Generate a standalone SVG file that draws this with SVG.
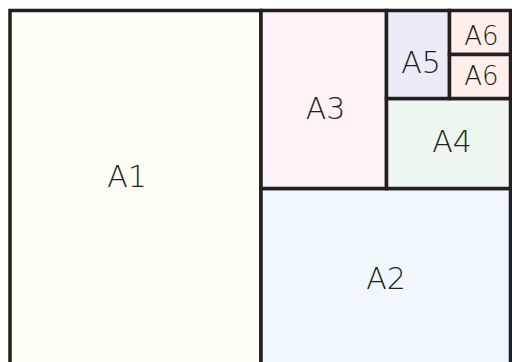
<svg xmlns="http://www.w3.org/2000/svg" width="512" height="362" viewBox="0 0 512 362">
<style>
.r{stroke:#231f20;stroke-width:3.5}
.t{font-family:"DejaVu Sans","Liberation Sans",sans-serif;font-weight:200;font-size:30px;fill:#231f20;text-anchor:middle}
.s{font-size:26px}
</style>
<rect width="512" height="362" fill="#ffffff"/>
<g id="A1"><rect class="r" x="10" y="10.5" width="251" height="354" fill="#fffef4"/><text class="t" x="127" y="187">A1</text></g>
<g id="A2"><rect class="r" x="261" y="188.5" width="249.5" height="176" fill="#f0f7fe"/><text class="t" x="386" y="289">A2</text></g>
<g id="A3"><rect class="r" x="261" y="10.5" width="125.5" height="178" fill="#fdf2f6"/><text class="t" x="325.5" y="119">A3</text></g>
<g id="A4"><rect class="r" x="386.5" y="98.5" width="124" height="90" fill="#eef6f0"/><text class="t" x="452" y="152">A4</text></g>
<g id="A5"><rect class="r" x="386.5" y="10.5" width="63" height="88" fill="#ececf7"/><text class="t" x="421" y="73">A5</text></g>
<g id="A6a"><rect class="r" x="449.5" y="10.5" width="61" height="44" fill="#fdf0ea"/><text class="t s" x="481.5" y="45">A6</text></g>
<g id="A6b"><rect class="r" x="449.5" y="54.5" width="61" height="44" fill="#fdf0ea"/><text class="t s" x="481.5" y="85">A6</text></g>
<g id="connectors"/>
</svg>
